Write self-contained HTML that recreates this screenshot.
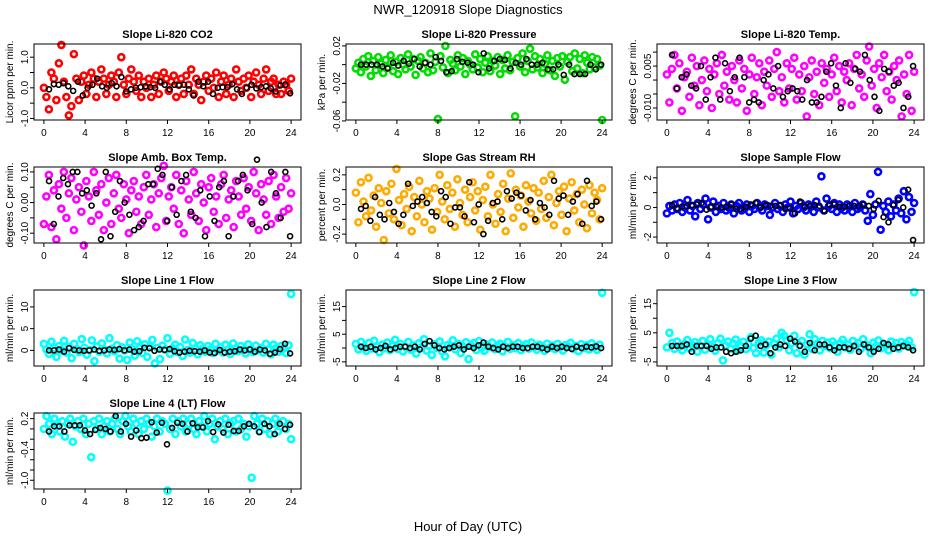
<!DOCTYPE html>
<html><head><meta charset="utf-8"><style>
body{margin:0;background:#fff}
svg{display:block;font-family:"Liberation Sans",sans-serif}
</style></head><body>
<svg id="c" width="936" height="540" viewBox="0 0 936 540">
<rect width="936" height="540" fill="#fff"/>
<text x="468" y="14" font-size="13" text-anchor="middle">NWR_120918  Slope Diagnostics</text>
<text x="468" y="531" font-size="13" text-anchor="middle">Hour of Day (UTC)</text>
</svg>
<script>
const xTicks=[0,4,8,12,16,20,24];
const co2=[0.0,-0.3,-0.7,0.5,0.3,-0.4,0.8,1.4,0.2,-0.3,-0.9,-0.6,1.1,0.3,-0.4,0.2,0.4,-0.2,0.1,0.5,0.3,-0.3,0.2,0.6,0.3,-0.2,0.1,0.4,0.2,-0.3,0.5,1.0,0.1,-0.2,0.3,0.6,0.2,-0.1,0.4,-0.3,0.2,0.0,0.3,-0.3,0.1,0.4,-0.2,0.2,0.5,0.3,-0.1,0.2,0.4,-0.3,0.1,0.3,-0.2,0.4,0.1,0.6,-0.2,0.3,0.1,-0.4,0.2,0.4,-0.1,0.3,0.0,0.5,-0.3,0.2,0.4,-0.2,0.1,0.3,-0.3,0.6,0.2,-0.1,0.3,0.0,0.4,-0.3,0.2,0.5,0.1,-0.2,0.3,0.6,-0.1,0.2,0.3,-0.2,0.1,-0.2,0.2,0.1,-0.1,0.3];
const co2B=[-0.05,0.12,0.1,0.15,0.05,-0.1,0.2,-0.25,0.0,0.1,0.3,0.05,0.0,0.15,0.05,0.35,-0.12,-0.05,0.0,0.02,0.05,0.02,0.0,0.2,0.1,-0.05,0.1,0.08,0.1,-0.05,-0.25,0.2,0.05,0.2,-0.2,0.0,0.02,0.02,0.12,-0.05,-0.2,0.0,0.1,-0.02,0.02,0.05,-0.02,-0.12,0.08,0.1,-0.18];
const press=[-0.004,0.002,-0.008,0.006,-0.002,0.009,-0.012,0.004,-0.006,0.008,0.001,-0.009,0.005,-0.003,0.010,-0.007,0.003,-0.010,0.007,0.000,-0.005,0.011,-0.002,0.006,-0.011,0.004,0.008,-0.004,0.002,-0.008,0.012,-0.006,0.003,-0.058,0.009,-0.003,0.020,-0.009,0.005,0.001,-0.006,0.010,-0.002,0.007,-0.010,0.004,0.000,-0.005,0.011,-0.003,0.006,-0.008,0.002,0.009,-0.007,0.004,-0.001,0.008,-0.010,0.005,-0.004,0.010,-0.006,0.003,-0.055,0.007,-0.002,0.012,-0.008,0.004,0.017,-0.005,0.009,-0.003,0.006,-0.009,0.001,0.010,-0.006,0.004,-0.012,0.007,-0.002,0.009,-0.016,0.003,0.008,-0.007,0.012,-0.004,0.006,-0.009,0.010,0.002,-0.005,0.008,-0.003,0.006,-0.001,-0.059];
const pressB=[0.0,0.0,0.0,0.0,-0.002,-0.004,0.002,-0.001,0.004,0.001,0.006,-0.002,0.002,0.0,0.008,0.004,-0.008,-0.007,0.006,0.003,0.002,0.0,-0.008,0.012,-0.004,0.004,0.006,0.005,-0.004,0.002,0.0,0.006,0.0,0.0,0.002,-0.005,-0.005,0.0,-0.011,0.0,-0.010,-0.010,-0.010,0.0,-0.005,0.0];
const temp=[0.002,-0.008,0.004,0.009,-0.003,0.006,-0.011,0.001,0.003,-0.006,0.008,-0.002,0.005,-0.009,0.000,0.007,-0.004,0.004,-0.010,0.002,0.006,-0.005,0.009,-0.002,0.003,-0.007,0.005,0.000,-0.008,0.007,-0.003,0.004,-0.011,0.002,0.008,-0.005,0.001,0.006,-0.009,0.003,-0.002,0.007,-0.006,0.004,0.010,-0.004,0.001,-0.008,0.006,-0.003,0.004,0.008,-0.007,0.002,-0.004,0.005,-0.013,0.001,0.007,-0.005,0.003,-0.009,0.006,-0.001,0.004,-0.006,0.002,0.008,-0.004,0.005,-0.008,0.003,0.000,0.006,-0.009,0.004,0.009,-0.003,0.002,-0.006,0.007,0.012,-0.002,0.004,-0.010,0.006,0.001,0.009,-0.004,0.003,-0.007,0.005,0.000,0.007,-0.013,0.002,-0.005,0.009,-0.011,0.003];
const tempB=[0.009,-0.003,0.001,0.002,-0.002,-0.003,0.005,-0.007,0.001,0.008,-0.007,0.006,-0.004,0.001,0.008,0.001,-0.008,-0.007,-0.008,0.0,0.002,-0.003,0.005,-0.006,-0.004,-0.003,-0.004,-0.007,0.0,-0.008,-0.008,-0.006,0.003,0.006,-0.002,-0.010,0.006,-0.001,0.004,0.003,0.009,0.0,-0.006,-0.011,0.004,0.003,-0.002,-0.001,-0.010,-0.006,0.005];
const amb=[-0.07,0.02,0.09,-0.08,0.04,-0.12,0.06,-0.02,0.10,-0.05,0.03,0.08,-0.09,0.01,0.05,-0.03,-0.14,0.07,0.02,-0.06,0.10,0.04,-0.04,0.06,-0.09,0.00,0.08,-0.07,0.03,0.09,-0.02,-0.05,0.06,0.01,-0.10,0.04,0.07,-0.03,0.02,-0.07,0.05,0.09,-0.04,0.01,0.06,-0.08,0.03,0.08,0.12,-0.06,0.02,0.05,-0.02,0.09,-0.07,0.04,-0.10,0.07,0.01,-0.04,0.10,0.03,-0.06,0.06,0.00,-0.09,0.05,0.08,-0.03,0.02,-0.07,0.06,0.09,-0.05,0.01,0.04,-0.08,0.07,0.02,-0.04,0.08,-0.02,0.05,-0.06,0.10,0.03,-0.09,0.06,0.01,-0.04,0.07,-0.07,0.09,0.02,-0.05,0.05,-0.03,0.08,-0.02,0.03];
const ambB=[0.07,-0.07,0.02,0.08,0.06,0.10,0.10,0.03,0.04,-0.01,0.03,-0.12,0.10,-0.11,-0.03,0.07,0.00,-0.04,-0.09,-0.08,-0.06,0.06,0.06,0.11,0.09,-0.06,0.05,-0.04,0.07,0.09,-0.03,-0.05,0.04,-0.11,0.02,-0.06,0.05,0.07,-0.11,0.02,0.07,0.09,0.04,-0.07,0.14,0.00,-0.08,0.10,0.03,-0.05,0.10,-0.11];
const rh=[0.08,-0.12,0.15,0.02,-0.08,0.18,-0.04,0.06,-0.15,0.11,0.01,-0.24,0.09,-0.06,0.14,-0.10,0.24,0.03,-0.14,0.07,-0.03,0.12,-0.18,0.05,-0.08,0.16,0.00,-0.12,0.09,0.04,-0.17,0.11,-0.05,0.20,0.02,-0.10,0.13,-0.03,0.08,-0.15,0.17,0.01,-0.07,0.10,-0.12,0.05,0.15,-0.04,0.09,-0.17,0.03,0.12,-0.08,0.20,0.00,-0.13,0.07,-0.05,0.14,-0.18,0.04,0.21,-0.09,0.10,-0.02,0.06,-0.15,0.13,0.02,-0.06,0.11,-0.11,0.08,-0.03,0.16,-0.09,0.05,0.20,-0.14,0.01,0.09,-0.07,0.12,-0.18,0.04,0.15,-0.04,0.07,-0.12,0.10,0.00,-0.16,0.13,-0.06,0.08,0.03,-0.10,0.11];
const rhB=[-0.03,-0.01,-0.11,0.05,-0.07,-0.10,0.01,-0.05,-0.13,-0.07,0.14,-0.01,0.02,0.05,0.01,-0.05,-0.08,0.09,0.05,-0.13,-0.02,-0.02,-0.08,0.15,-0.12,0.00,-0.20,-0.11,0.01,0.02,-0.10,0.09,0.04,0.08,0.06,-0.04,0.03,-0.10,0.01,-0.02,-0.07,0.16,0.04,0.06,-0.07,0.02,0.07,-0.13,0.16,-0.01,0.02,-0.10];
const samp=[-0.4,0.1,-0.2,0.2,-0.1,0.3,-0.3,0.0,0.5,-0.2,0.1,-0.6,0.3,-0.1,0.2,0.6,-0.8,0.0,0.4,-0.3,0.1,-0.1,0.3,-0.2,0.0,0.2,-0.4,0.1,0.3,-0.2,0.0,0.2,-0.3,0.1,-0.1,0.3,0.0,-0.2,0.2,0.1,-0.5,0.0,0.3,-0.1,0.1,-0.3,0.2,0.0,0.4,-0.4,0.1,-0.1,0.3,0.0,-0.2,0.2,0.1,-0.3,0.4,0.0,2.1,-0.2,0.6,0.1,-0.1,0.3,-0.3,0.2,0.0,-0.2,0.2,0.1,-0.3,0.3,-0.1,0.0,0.2,-0.2,-0.9,0.9,-0.5,0.2,2.4,-1.5,0.1,-0.3,0.4,-0.6,0.2,-0.2,0.6,-0.4,1.1,-0.8,0.7,-0.3,0.3];
const sampB=[0.15,-0.05,0.05,0.1,0.15,0.2,0.3,-0.15,0.05,0.05,0.0,0.05,0.2,-0.1,-0.1,0.05,0.2,0.3,0.0,0.15,0.1,0.1,0.15,-0.1,-0.05,-0.4,0.4,0.05,0.1,0.15,0.1,-0.25,0.2,0.2,0.05,0.05,0.1,0.1,0.1,0.2,0.1,-0.1,0.45,-0.65,-1.0,0.15,0.5,0.0,1.2,-2.2];
const l1=[1.5,0.2,-0.8,2.0,0.5,-1.5,1.0,0.0,2.2,-0.5,0.8,-1.8,1.5,0.3,-0.4,2.6,0.6,-1.0,0.1,2.3,-2.5,0.9,-0.3,1.6,0.2,-0.7,2.8,0.4,-0.2,1.2,-1.9,0.7,0.0,-2.2,1.8,0.3,-1.2,2.1,0.5,-0.6,1.4,-1.5,0.9,2.4,-3.0,0.6,-2.0,1.1,0.2,2.8,-0.8,0.5,1.3,-0.4,0.8,-1.3,2.5,0.1,-0.5,1.7,0.3,-0.9,1.2,0.4,-0.3,1.0,0.2,-0.6,1.5,0.0,0.7,-0.5,1.3,0.2,-0.8,1.6,0.4,-0.2,1.0,0.1,-0.7,1.4,0.3,-0.4,1.1,0.0,0.6,-0.5,1.5,0.2,-0.9,1.3,0.5,-0.3,1.0,0.4,-0.6,1.2,13.0];
const l1B=[0.0,0.0,0.2,-0.3,0.5,0.1,0.0,-0.1,0.0,0.2,-0.1,0.0,0.2,0.1,0.3,0.0,0.2,-0.3,-0.2,0.6,0.5,-0.1,0.2,0.1,0.3,-0.2,-0.5,-0.3,-0.1,-0.2,-0.3,0.0,-0.5,-0.6,0.1,-0.5,-0.3,-0.2,0.2,0.0,0.2,-0.3,0.2,0.0,-0.8,-0.5,0.3,1.5,-0.7];
const l2=[1.5,-0.5,2.2,0.3,-1.0,1.8,-0.2,2.6,0.5,-1.5,1.2,0.0,2.0,-0.8,0.7,3.0,-0.3,1.5,-1.2,0.4,2.2,-0.6,1.0,-2.0,1.7,0.2,3.2,-0.9,0.8,-2.5,1.4,0.0,2.4,-1.3,-3.0,1.1,0.3,2.8,-0.5,1.6,-1.8,0.6,2.1,-4.0,0.9,1.8,-0.7,2.5,0.1,-1.0,1.3,0.4,2.0,-0.4,0.9,1.6,-1.2,0.5,2.2,-0.3,1.0,0.0,1.8,-0.8,0.6,1.4,-0.2,2.0,0.3,-0.6,1.2,0.7,-1.0,1.6,0.1,0.9,-0.4,1.5,0.2,-0.9,1.1,0.6,1.9,-0.3,0.8,-1.1,1.4,0.0,1.0,-0.5,1.7,0.3,-0.7,1.2,20.0];
const l2B=[0.5,0.0,0.5,-0.5,0.0,0.8,-0.5,0.0,0.5,0.5,0.0,0.5,-0.5,1.5,2.5,1.0,0.0,-0.5,0.0,0.5,1.0,-0.5,0.5,0.0,1.0,2.0,0.5,0.0,-0.5,0.5,0.0,0.5,0.5,0.0,0.0,0.5,0.5,0.0,-0.5,0.5,0.0,0.5,0.0,-0.3,0.5,0.0,0.5,0.2,0.6,0.0];
const l3=[0.0,5.0,1.5,-0.5,2.0,0.3,-1.0,1.2,2.5,-0.3,0.8,1.8,-1.5,0.5,2.2,-0.8,1.0,2.8,0.2,-1.2,1.5,3.0,-4.5,0.6,2.0,-0.4,1.3,2.7,-1.0,0.4,1.9,-0.6,1.1,3.5,-0.2,-2.0,1.6,2.4,-1.8,0.8,2.0,-2.5,1.3,3.0,0.0,5.0,4.0,2.5,-1.0,1.5,4.0,-2.0,0.8,2.2,-2.5,1.0,4.5,-0.5,2.8,1.2,-1.0,2.2,0.5,1.6,-0.3,2.0,0.8,-1.5,1.4,2.6,0.0,1.0,-0.8,2.2,0.6,1.5,-0.5,2.8,1.0,0.2,-2.0,1.6,0.4,2.4,-0.3,1.2,0.7,-1.0,2.0,0.3,1.5,-0.4,1.8,0.6,1.2,2.2,0.0,19.0];
const l3B=[0.5,0.5,0.5,1.0,-1.5,0.5,0.5,0.5,-0.5,0.0,0.0,-1.5,-2.0,-1.5,-1.0,0.5,3.0,4.0,0.5,1.0,-2.0,0.0,1.0,0.5,3.0,2.0,0.5,-1.5,1.5,-1.0,1.0,1.0,0.0,-1.0,0.0,0.0,-0.5,0.5,-1.5,1.0,0.0,-1.5,-0.5,1.5,1.0,-0.5,0.0,0.5,0.0,-1.0];
const l4=[0.0,0.25,0.1,-0.1,0.2,0.05,-0.05,0.15,-0.15,0.1,0.2,-0.25,0.05,0.15,0.0,0.2,-0.1,0.1,-0.55,0.15,0.0,0.2,-0.1,0.05,0.15,-0.05,0.1,0.2,0.0,-0.1,0.15,0.25,0.05,-0.05,0.2,0.1,-0.1,0.15,0.0,0.2,0.1,-0.15,0.05,0.2,-0.05,0.15,0.1,-1.2,0.0,0.2,-0.1,0.15,0.05,0.2,-0.05,0.1,0.2,0.0,-0.1,0.15,0.05,0.25,-0.05,0.1,0.2,-0.2,0.05,0.15,0.0,0.2,-0.1,0.1,0.15,-0.05,0.2,0.0,0.1,-0.15,0.05,-0.95,0.25,0.1,-0.05,0.2,0.0,0.15,-0.1,0.1,0.2,-0.05,0.05,0.15,0.0,0.1,-0.2];
const l4B=[-0.05,0.05,0.05,-0.05,0.07,0.07,0.07,-0.03,-0.1,-0.02,0.02,0.0,-0.05,0.25,-0.05,0.1,-0.15,-0.03,-0.18,-0.17,0.13,-0.07,0.12,-0.3,0.02,0.12,0.1,-0.05,0.11,0.03,0.03,0.15,-0.06,0.09,-0.07,0.08,-0.04,-0.04,0.05,0.1,0.05,-0.06,0.1,0.05,-0.1,0.1,0.0,0.08];

const panels=[
 {id:'co2',title:'Slope Li-820 CO2',yl:'Licor ppm per min.',col:0,row:0,ylim:[-1.05,1.43],ticks:[-1,-0.5,0,0.5,1],labels:['-1.0','','0.0','','1.0'],color:'#ff0000',a:co2,b:co2B},
 {id:'pressure',title:'Slope Li-820 Pressure',yl:'kPa per min.',col:1,row:0,ylim:[-0.059,0.022],ticks:[-0.06,-0.04,-0.02,0,0.02],labels:['-0.06','','-0.02','','0.02'],color:'#00dd00',a:press,b:pressB},
 {id:'temp',title:'Slope Li-820 Temp.',yl:'degrees C per min.',col:2,row:0,ylim:[-0.0143,0.0129],ticks:[-0.01,-0.005,0,0.005,0.01],labels:['-0.010','','','0.005',''],color:'#ff00ff',a:temp,b:tempB},
 {id:'amb-box-temp',title:'Slope Amb. Box Temp.',yl:'degrees C per min.',col:0,row:1,ylim:[-0.132,0.116],ticks:[-0.1,-0.05,0,0.05,0.1],labels:['-0.10','','0.00','','0.10'],color:'#ff00ff',a:amb,b:ambB},
 {id:'gas-stream-rh',title:'Slope Gas Stream RH',yl:'percent per min.',col:1,row:1,ylim:[-0.26,0.253],ticks:[-0.2,-0.1,0,0.1,0.2],labels:['-0.2','','0.0','','0.2'],color:'#ffaa00',a:rh,b:rhB},
 {id:'sample-flow',title:'Slope Sample Flow',yl:'ml/min per min.',col:2,row:1,ylim:[-2.4,2.73],ticks:[-2,-1,0,1,2],labels:['-2','','0','','2'],color:'#0000ff',a:samp,b:sampB},
 {id:'line1-flow',title:'Slope Line 1 Flow',yl:'ml/min per min.',col:0,row:2,ylim:[-3.6,13.9],ticks:[0,5,10],labels:['0','5','10'],color:'#00ffff',a:l1,b:l1B},
 {id:'line2-flow',title:'Slope Line 2 Flow',yl:'ml/min per min.',col:1,row:2,ylim:[-6.5,21],ticks:[-5,0,5,10,15],labels:['-5','','5','','15'],color:'#00ffff',a:l2,b:l2B},
 {id:'line3-flow',title:'Slope Line 3 Flow',yl:'ml/min per min.',col:2,row:2,ylim:[-6.4,19.7],ticks:[-5,0,5,10,15],labels:['-5','','5','','15'],color:'#00ffff',a:l3,b:l3B},
 {id:'line4-flow',title:'Slope Line 4 (LT) Flow',yl:'ml/min per min.',col:0,row:3,ylim:[-1.17,0.31],ticks:[-1,-0.8,-0.6,-0.4,-0.2,0,0.2],labels:['-1.0','','','-0.4','','','0.2'],color:'#00ffff',a:l4,b:l4B}
];
const colX=[34,346,657],colW=[267,266,267],rowY=[44,167,290,413],H=76;
const NS='http://www.w3.org/2000/svg';
const svg=document.getElementById('c');
function mk(tag,at,parent){const e=document.createElementNS(NS,tag);for(const k in at)e.setAttribute(k,at[k]);(parent||svg).appendChild(e);return e;}
panels.forEach(p=>{
 const L=colX[p.col],T=rowY[p.row],W=colW[p.col];
 const g=mk('g',{});
 
 
 const xs=h=>L+W*(h+0.96)/25.92;
 const ys=v=>T+H*(p.ylim[1]-v)/(p.ylim[1]-p.ylim[0]);
 const t=mk('text',{x:L+W/2,y:T-6,'font-size':11,'font-weight':'bold','text-anchor':'middle'},g);t.textContent=p.title;
 
 
 const yl=mk('text',{x:0,y:0,'font-size':10,'text-anchor':'middle',transform:`translate(${L-21},${T+H/2}) rotate(-90)`},g);yl.textContent=p.yl;
 
 
 const pts=mk('g',{fill:'none'},g);
 
 
 p.a.forEach((v,i)=>{const c=mk('circle',{cx:xs(i*24/(p.a.length-1)),cy:ys(v),r:3,stroke:p.color,'stroke-width':2.6},pts);
  
  });
 p.b.forEach((v,i)=>{const c=mk('circle',{cx:xs(0.5+i*23.4/(p.b.length-1)),cy:ys(v),r:2.5,stroke:'#000','stroke-width':1.6},pts);
  
  });
 const box=mk('rect',{x:L,y:T,width:W,height:H,fill:'none',stroke:'#000','stroke-width':1},g);
 
 
 xTicks.forEach(h=>{mk('line',{x1:xs(h),x2:xs(h),y1:T+H,y2:T+H+4,stroke:'#000'},g);
  const tl=mk('text',{x:xs(h),y:T+H+16,'font-size':10,'text-anchor':'middle'},g);tl.textContent=h;
  
  });
 p.ticks.forEach((v,i)=>{mk('line',{x1:L-4,x2:L,y1:ys(v),y2:ys(v),stroke:'#000'},g);
  if(p.labels[i]){const tl=mk('text',{x:0,y:0,'font-size':10,'text-anchor':'middle',transform:`translate(${L-6},${ys(v)}) rotate(-90)`},g);tl.textContent=p.labels[i];
  
  }});
});
</script>
</body></html>
